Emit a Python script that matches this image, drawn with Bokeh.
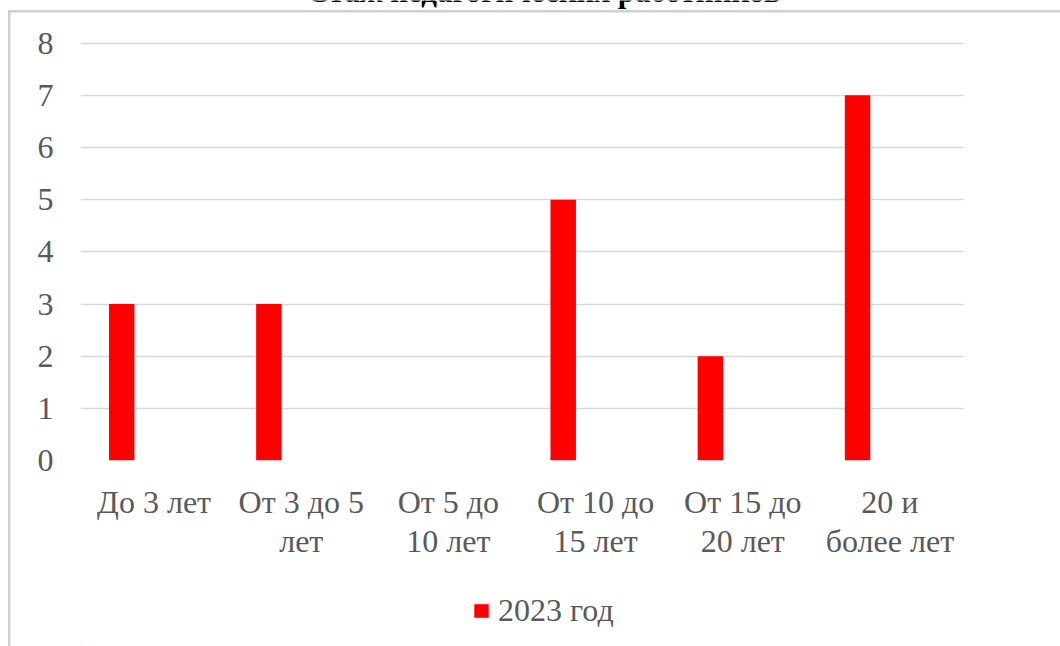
from bokeh.plotting import figure
from bokeh.layouts import column
from bokeh.models import (ColumnDataSource, FactorRange, Range1d, SingleIntervalTicker,
                          Legend, LegendItem, Label, CategoricalAxis)
from bokeh.transform import dodge
from bokeh.embed import file_html
from bokeh.resources import INLINE

title_text = "Стаж педагогических работников"
categories = ["До 3 лет", "От 3 до 5 лет", "От 5 до 10 лет",
              "От 10 до 15 лет", "От 15 до 20 лет", "20 и более лет"]
tick_line1 = ["До 3 лет", "От 3 до 5", "От 5 до", "От 10 до", "От 15 до", "20 и"]
tick_line2 = ["", "лет", "10 лет", "15 лет", "20 лет", "более лет"]
series_name = "2023 год"
values_2023 = [3, 3, 0, 5, 2, 7]

FONT = "Liberation Serif"
FS = "32px"
GREY_TXT = "#595959"
GRID = "#d9d9d9"
BORDER = "#d0d0d0"
G = f"linear-gradient({BORDER}, {BORDER})"

src = ColumnDataSource(dict(cat=categories, v=values_2023))

p = figure(x_range=FactorRange(*categories, range_padding=0),
           y_range=Range1d(0, 8.818), x_axis_location=None,
           width=1060, height=580,
           output_backend="svg", toolbar_location=None,
           min_border_left=80, min_border_right=97,
           min_border_top=0, min_border_bottom=120)
p.outline_line_color = None
p.background_fill_color = None
p.border_fill_color = None
p.styles = {
    "background-image": f"{G}, {G}",
    "background-size": "100% 2.5px, 2.5px 100%",
    "background-position": "8px 10px, 8px 10px",
    "background-repeat": "no-repeat",
}
p.extra_x_ranges = {"l1": FactorRange(*tick_line1, range_padding=0),
                    "l2": FactorRange(*tick_line2, range_padding=0)}

r = p.vbar(x=dodge("cat", -0.22, range=p.x_range), top="v", width=0.173,
           source=src, fill_color="#ff0000", line_color=None)

p.xgrid.grid_line_color = None
p.ygrid.grid_line_color = GRID
p.ygrid.grid_line_width = 1.5

ax1 = CategoricalAxis(x_range_name="l1")
ax2 = CategoricalAxis(x_range_name="l2")
p.add_layout(ax1, "below")
p.add_layout(ax2, "below")

p.yaxis.ticker = SingleIntervalTicker(interval=1)
for ax in (ax1, ax2, p.yaxis[0]):
    ax.axis_line_color = None
    ax.major_tick_line_color = None
    ax.minor_tick_line_color = None
    ax.major_tick_out = 0
    ax.major_tick_in = 0
    ax.major_label_text_font = FONT
    ax.major_label_text_font_size = FS
    ax.major_label_text_color = GREY_TXT
p.yaxis.major_label_standoff = 23
ax1.major_label_standoff = 23
ax2.major_label_standoff = 0

p.add_layout(Label(x=3.147, y=8.99, text=title_text, text_font=FONT,
                   text_font_size="31px", text_font_style="bold",
                   text_align="center", text_baseline="alphabetic",
                   text_color="black"))

# legend strip
q = figure(x_range=Range1d(0, 1060), y_range=Range1d(0, 66),
           width=1060, height=66, output_backend="svg", toolbar_location=None,
           min_border=0, x_axis_location=None, y_axis_location=None)
q.outline_line_color = None
q.background_fill_color = None
q.border_fill_color = None
q.xgrid.visible = False
q.ygrid.visible = False
q.styles = {
    "background-image": G,
    "background-size": "2.5px 100%",
    "background-position": "8px 0px",
    "background-repeat": "no-repeat",
}
rl = q.vbar(x=[-500], top=[1], width=1, fill_color="#ff0000", line_color=None)
legend = Legend(items=[LegendItem(label=series_name, renderers=[rl])],
                location=(392, 17), orientation="horizontal",
                label_text_font=FONT, label_text_font_size=FS,
                label_text_color=GREY_TXT, glyph_width=18, glyph_height=17,
                label_standoff=8, padding=0, margin=0, spacing=0,
                border_line_color=None, background_fill_alpha=0)
q.add_layout(legend)

layout = column(p, q, spacing=0)
open("out.html", "w").write(file_html(layout, INLINE))
